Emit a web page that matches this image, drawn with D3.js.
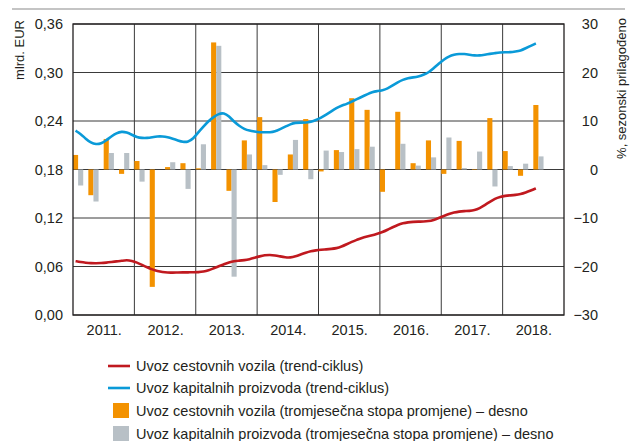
<!DOCTYPE html>
<html>
<head>
<meta charset="utf-8">
<script src="https://cdn.jsdelivr.net/npm/d3@7"></script>
<style>
  body { margin: 0; background: #fff; }
  svg text { font-family: "Liberation Sans", Arial, sans-serif; fill: #231f20; }
</style>
</head>
<body>
<script>
// year labels on the x axis
var years = [2011, 2012, 2013, 2014, 2015, 2016, 2017, 2018];

// quarterly rates of change, % (right axis), 2011 Q1 .. 2018 Q3
var vehiclesQ = [3.0, -5.3, 6.3, -0.9, 1.75, -24.2, 0.5, 1.3,
  0.25, 26.2, -4.4, 6.0, 10.8, -6.7, 3.1, 10.4,
  -0.4, 4.0, 14.7, 12.3, -4.6, 11.9, 1.3, 6.0,
  -0.9, 5.9, 0.1, 10.6, 3.8, -1.3, 13.3];
var capitalQ = [-3.3, -6.6, 3.4, 3.4, -2.5, 0, 1.5, -4.0,
  5.2, 25.5, -22.1, 3.1, 0.9, -1.1, 6.1, -2.0,
  3.9, 3.6, 4.2, 4.7, 0, 5.3, 0.8, 2.5,
  6.6, 0.3, 3.7, -3.5, 0.7, 1.2, 2.7];

// monthly trend-cycle, bn EUR (left axis), Jan 2011 .. Jul 2018
var vehiclesTrend = [0.0666, 0.0655, 0.0647, 0.0641, 0.0640, 0.0642, 0.0648, 0.0656, 0.0664, 0.0670, 0.0680, 0.0670,
  0.0650, 0.0620, 0.0590, 0.0563, 0.0543, 0.0530, 0.0524, 0.0524, 0.0526, 0.0527, 0.0528, 0.0528,
  0.0530, 0.0536, 0.0552, 0.0578, 0.0602, 0.0627, 0.0652, 0.0668, 0.0672, 0.0678, 0.0690, 0.0708,
  0.0726, 0.0740, 0.0745, 0.0738, 0.0725, 0.0713, 0.0710, 0.0725, 0.0748, 0.0770, 0.0790, 0.0800,
  0.0807, 0.0812, 0.0818, 0.0825, 0.0845, 0.0875, 0.0905, 0.0930, 0.0955, 0.0970, 0.0985, 0.1005,
  0.1025, 0.1055, 0.1085, 0.1115, 0.1135, 0.1147, 0.1152, 0.1155, 0.1156, 0.1160, 0.1175, 0.1200,
  0.1225, 0.1250, 0.1268, 0.1280, 0.1285, 0.1288, 0.1295, 0.1320, 0.1360, 0.1400, 0.1440, 0.1462,
  0.1475, 0.1480, 0.1485, 0.1495, 0.1515, 0.1540, 0.1567];
var capitalTrend = [0.228, 0.224, 0.218, 0.213, 0.211, 0.212, 0.216, 0.221, 0.225, 0.227, 0.226, 0.223,
  0.220, 0.219, 0.219, 0.220, 0.221, 0.221, 0.220, 0.218, 0.216, 0.214, 0.214, 0.218,
  0.226, 0.233, 0.240, 0.245, 0.249, 0.250, 0.246, 0.239, 0.234, 0.230, 0.228, 0.227,
  0.226, 0.226, 0.226, 0.227, 0.230, 0.233, 0.236, 0.238, 0.238, 0.238, 0.239, 0.241,
  0.244, 0.248, 0.252, 0.256, 0.259, 0.261, 0.264, 0.267, 0.270, 0.273, 0.276, 0.277,
  0.278, 0.280, 0.284, 0.288, 0.291, 0.293, 0.294, 0.295, 0.297, 0.300, 0.305, 0.311,
  0.316, 0.320, 0.322, 0.323, 0.323, 0.322, 0.321, 0.321, 0.322, 0.323, 0.324, 0.325,
  0.325, 0.325, 0.326, 0.327, 0.330, 0.333, 0.336];

var leftTicks = [0, 0.06, 0.12, 0.18, 0.24, 0.30, 0.36];
var rightTicks = [-30, -20, -10, 0, 10, 20, 30];

var legendLabels = [
  "Uvoz cestovnih vozila (trend-ciklus)",
  "Uvoz kapitalnih proizvoda (trend-ciklus)",
  "Uvoz cestovnih vozila (tromjesečna stopa promjene) – desno",
  "Uvoz kapitalnih proizvoda (tromjesečna stopa promjene) – desno"
];

var RED = "#c0191f", BLUE = "#0a9ad8", ORANGE = "#f39200", GREY = "#b8c0c6";

var hr = d3.formatLocale({decimal: ",", thousands: ".", grouping: [3], currency: ["", " €"], minus: "\u2212"});

var svg = d3.select("body").append("svg")
  .attr("width", 638)
  .attr("height", 441);

var x = d3.scaleLinear().domain([2011, 2019]).range([73, 564]);
var yL = d3.scaleLinear().domain([0, 0.36]).range([315, 24]);
var yR = d3.scaleLinear().domain([-30, 30]).range([315, 24]);

// top rule
svg.append("line")
  .attr("x1", 12).attr("x2", 625)
  .attr("y1", 9).attr("y2", 9)
  .attr("stroke", "#8a8a8a").attr("stroke-width", 1.2);

// grid
svg.append("g").selectAll("line").data(leftTicks).join("line")
  .attr("x1", x(2011)).attr("x2", x(2019))
  .attr("y1", d => yL(d)).attr("y2", d => yL(d))
  .attr("stroke", "#3a3a3a").attr("stroke-width", 1);
svg.append("g").selectAll("line").data(d3.range(2012, 2019)).join("line")
  .attr("x1", d => x(d)).attr("x2", d => x(d))
  .attr("y1", yL(0)).attr("y2", yL(0.36))
  .attr("stroke", "#3a3a3a").attr("stroke-width", 1);

// bars
var bw = (x(2011.25) - x(2011)) / 3;
var qt = function(i) { return 2011 + i / 4; };

svg.append("g").selectAll("rect").data(vehiclesQ).join("rect")
  .attr("x", (d, i) => x(qt(i)))
  .attr("width", bw)
  .attr("y", d => yR(Math.max(0, d)))
  .attr("height", d => Math.abs(yR(d) - yR(0)))
  .attr("fill", ORANGE);

svg.append("g").selectAll("rect").data(capitalQ).join("rect")
  .attr("x", (d, i) => x(qt(i)) + bw)
  .attr("width", bw)
  .attr("y", d => yR(Math.max(0, d)))
  .attr("height", d => Math.abs(yR(d) - yR(0)))
  .attr("fill", GREY);

// lines
var line = d3.line()
  .x((d, i) => x(2011 + (i + 0.5) / 12))
  .y(d => yL(d))
  .curve(d3.curveBasis);

svg.append("path").datum(vehiclesTrend)
  .attr("d", line)
  .attr("fill", "none").attr("stroke", RED).attr("stroke-width", 2.6);
svg.append("path").datum(capitalTrend)
  .attr("d", line)
  .attr("fill", "none").attr("stroke", BLUE).attr("stroke-width", 2.6);

// frame
svg.append("rect")
  .attr("x", x(2011)).attr("y", yL(0.36))
  .attr("width", x(2019) - x(2011)).attr("height", yL(0) - yL(0.36))
  .attr("fill", "none").attr("stroke", "#231f20").attr("stroke-width", 1.3);

// axes
var gl = svg.append("g")
  .attr("transform", "translate(" + x(2011) + ",0)")
  .call(d3.axisLeft(yL).tickValues(leftTicks).tickFormat(hr.format(".2f")).tickSize(0).tickPadding(10));
gl.select(".domain").remove();

var gr = svg.append("g")
  .attr("transform", "translate(" + x(2019) + ",0)")
  .call(d3.axisRight(yR).tickValues(rightTicks).tickFormat(hr.format("d")).tickSize(0));
gr.select(".domain").remove();
gr.selectAll("text").attr("text-anchor", "end").attr("x", 34);

var gb = svg.append("g")
  .attr("transform", "translate(0," + yL(0) + ")")
  .call(d3.axisBottom(x).tickValues(years.map(d => d + 0.5)).tickFormat(d => Math.floor(d) + ".").tickSize(0).tickPadding(10));
gb.select(".domain").remove();

svg.selectAll(".tick text")
  .attr("font-family", "Liberation Sans, Arial, sans-serif")
  .attr("font-size", 14.5)
  .attr("fill", "#231f20");

// axis titles
svg.append("text")
  .attr("transform", "translate(24,20) rotate(-90)")
  .attr("text-anchor", "end")
  .attr("font-size", 13)
  .text("mlrd. EUR");
svg.append("text")
  .attr("transform", "translate(626,18) rotate(-90)")
  .attr("text-anchor", "end")
  .attr("font-size", 13)
  .text("%, sezonski prilagođeno");

// legend
var lg = svg.append("g");
var rowY = [366, 388, 410.5, 433.5];
lg.selectAll("line").data([RED, BLUE]).join("line")
  .attr("x1", 108).attr("x2", 130)
  .attr("y1", (d, i) => rowY[i]).attr("y2", (d, i) => rowY[i])
  .attr("stroke", d => d).attr("stroke-width", 2.6);
lg.selectAll("rect").data([ORANGE, GREY]).join("rect")
  .attr("x", 113).attr("width", 16)
  .attr("y", (d, i) => rowY[i + 2] - 7.5).attr("height", 15)
  .attr("fill", d => d);
lg.selectAll("text").data(legendLabels).join("text")
  .attr("x", 136)
  .attr("y", (d, i) => rowY[i] + 5)
  .attr("font-size", 14.5)
  .text(d => d);
</script>
</body>
</html>
